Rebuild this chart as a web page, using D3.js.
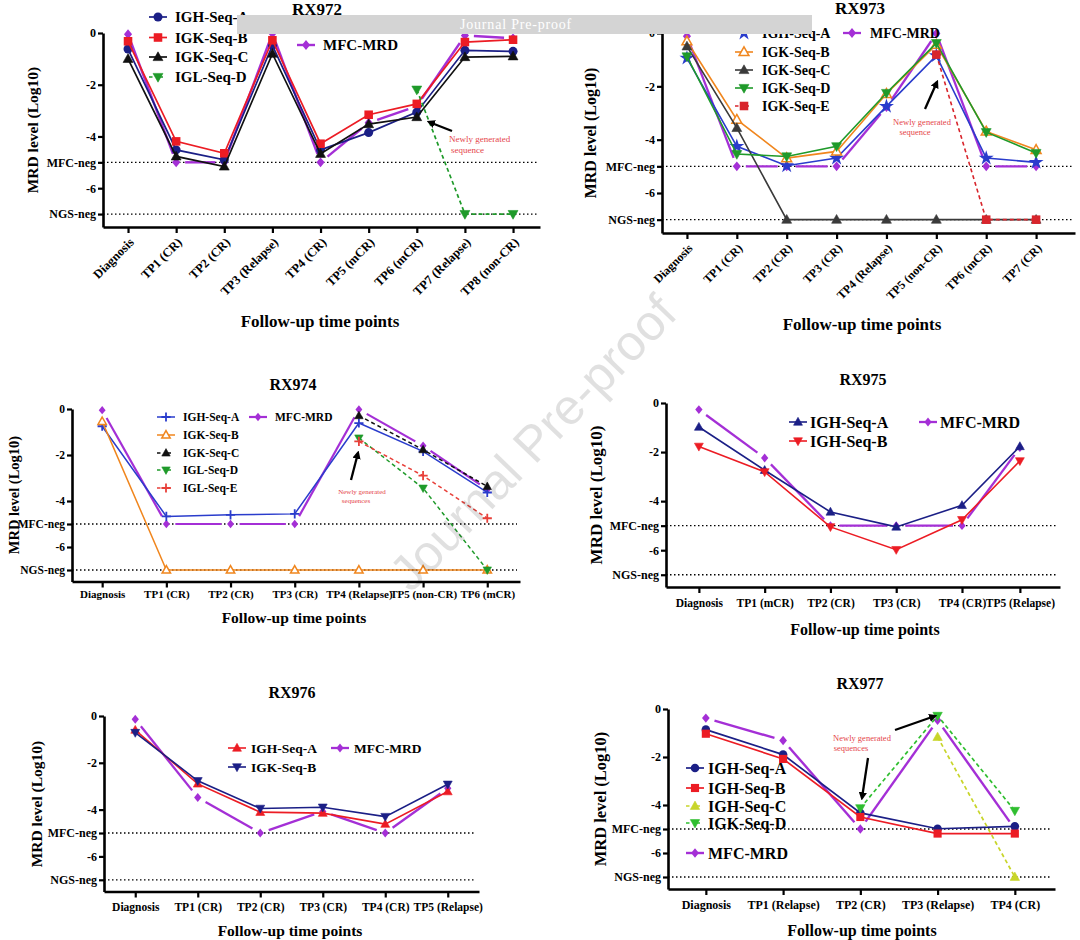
<!DOCTYPE html>
<html><head><meta charset="utf-8">
<script src="https://cdn.jsdelivr.net/npm/d3@7"></script>
<style>
body{margin:0;background:#fff}
svg{display:block}
text{font-family:"Liberation Serif","Times New Roman",serif}
</style>
</head><body>
<svg id="c" width="1080" height="940"></svg>
<script>
// ---------------- DATA ----------------
const yTickValues = [0, -2, -4, -5, -6, -7];
const yTickLabels = ["0", "-2", "-4", "MFC-neg", "-6", "NGS-neg"];

// RX972
const rx972Cats = ["Diagnosis","TP1 (CR)","TP2 (CR)","TP3 (Relapse)","TP4 (CR)","TP5 (mCR)","TP6 (mCR)","TP7 (Relapse)","TP8 (non-CR)"];
const rx972IGH_A = [-0.62,-4.52,-4.9,-0.48,-4.52,-3.85,-3.06,-0.67,-0.71];
const rx972IGK_B = [-0.32,-4.19,-4.65,-0.28,-4.28,-3.16,-2.74,-0.35,-0.26];
const rx972IGK_C = [-1.0,-4.77,-5.16,-0.8,-4.67,-3.52,-3.25,-0.93,-0.9];
const rx972IGL_D = [null,null,null,null,null,null,-2.19,-7,-7];
const rx972MFC   = [-0.05,-5,-5,-0.02,-5,-3.47,-2.83,-0.1,-0.2];

// RX973
const rx973Cats = ["Diagnosis","TP1 (CR)","TP2 (CR)","TP3 (CR)","TP4 (Relapse)","TP5 (non-CR)","TP6 (mCR)","TP7 (CR)"];
const rx973IGH_A = [-0.94,-4.25,-4.98,-4.69,-2.75,-0.85,-4.69,-4.85];
const rx973IGK_B = [-0.31,-3.25,-4.69,-4.44,-2.28,-0.44,-3.69,-4.38];
const rx973IGK_C = [-0.5,-3.56,-7,-7,-7,-7,-7,-7];
const rx973IGK_D = [-0.88,-4.54,-4.63,-4.25,-2.25,-0.38,-3.72,-4.5];
const rx973IGK_E = [null,null,null,null,null,-0.81,-7,-7];
const rx973MFC   = [-0.12,-5,-5,-5,-2.78,-0.02,-5,-5];

// RX974
const rx974Cats = ["Diagnosis","TP1 (CR)","TP2 (CR)","TP3 (CR)","TP4 (Relapse)","TP5 (non-CR)","TP6 (mCR)"];
const rx974IGH_A = [-0.75,-4.67,-4.6,-4.56,-0.61,-1.84,-3.63];
const rx974IGK_B = [-0.54,-7,-7,-7,-7,-7,-7];
const rx974IGK_C = [null,null,null,null,-0.29,-1.77,-3.37];
const rx974IGL_D = [null,null,null,null,-1.26,-3.44,-7];
const rx974IGL_E = [null,null,null,null,-1.41,-2.9,-4.75];
const rx974MFC   = [-0.05,-5,-5,-5,-0.02,-1.6,-3.5];

// RX975
const rx975Cats = ["Diagnosis","TP1 (mCR)","TP2 (CR)","TP3 (CR)","TP4 (CR)","TP5 (Relapse)"];
const rx975XVals = [0,1,2,3,4,4.88];
const rx975IGH_A = [-0.98,-2.74,-4.44,-5.05,-4.17,-1.77];
const rx975IGH_B = [-1.77,-2.81,-5.05,-5.98,-4.76,-2.36];
const rx975MFC   = [-0.27,-2.24,-5,-5,-5,-1.82];

// RX976
const rx976Cats = ["Diagnosis","TP1 (CR)","TP2 (CR)","TP3 (CR)","TP4 (CR)","TP5 (Relapse)"];
const rx976IGH_A = [-0.6,-2.9,-4.11,-4.15,-4.62,-3.23];
const rx976IGK_B = [-0.71,-2.77,-3.95,-3.9,-4.3,-2.92];
const rx976MFC   = [-0.14,-3.48,-5,-4.08,-5,-3.09];

// RX977
const rx977Cats = ["Diagnosis","TP1 (Relapse)","TP2 (CR)","TP3 (Relapse)","TP4 (CR)"];
const rx977IGH_A = [-0.86,-1.9,-4.33,-4.99,-4.89];
const rx977IGH_B = [-1.03,-2.08,-4.5,-5.19,-5.19];
const rx977IGH_C = [null,null,null,-1.17,-7];
const rx977IGK_D = [null,null,-4.13,-0.28,-4.24];
const rx977MFC   = [-0.38,-1.31,-5,-0.47,-5];

// ---------------- STYLE ----------------
const C = {
  navy:"#1b1f86", red:"#ec1c24", black:"#111111", green:"#1f9a2a", purple:"#a42fd6",
  orange:"#f0861e", blue:"#2a3ccc", gray:"#3a3a3a", red2:"#d8252c", yellow:"#c8d52a",
  lgreen:"#2fbe2f", red3:"#e8403a"
};

const panels = [
  { title:"RX972", cats:rx972Cats, xVals:d3.range(rx972Cats.length),
    series:[
      {name:"IGH-Seq-A", values:rx972IGH_A, color:C.navy, marker:"circle"},
      {name:"IGK-Seq-B", values:rx972IGK_B, color:C.red, marker:"square"},
      {name:"IGK-Seq-C", values:rx972IGK_C, color:C.black, marker:"tri"},
      {name:"IGL-Seq-D", values:rx972IGL_D, color:C.green, marker:"triDown", dashed:true},
      {name:"MFC-MRD", values:rx972MFC, color:C.purple, marker:"diamond", mfc:true}],
    L:{axisX0:103, axisX1:540, padL:0.52, padR:0.56, yTop:33, yBot:227, rotate:true, labOx:3, labOy:13, labFs:12.5,
       tickFs:12, title:[317,15,17], xTitle:[320,327,17], yLabel:[38,130,15.5], ms:1, lw:1.7,
       legend:[[158,17],[158,37.5],[158,57],[158,77],[306,45]], legFs:15, legDx:17,
       annot:{lines:[["Newly generated",449,142],["sequence",451,153]], fs:9, anchor:"start", arrows:[[452,131,429,122]]}}},
  { title:"RX973", cats:rx973Cats, xVals:d3.range(rx973Cats.length),
    series:[
      {name:"IGH-Seq-A", values:rx973IGH_A, color:C.blue, marker:"star"},
      {name:"IGK-Seq-B", values:rx973IGK_B, color:C.orange, marker:"triOpen"},
      {name:"IGK-Seq-C", values:rx973IGK_C, color:C.gray, marker:"tri"},
      {name:"IGK-Seq-D", values:rx973IGK_D, color:C.green, marker:"triDown"},
      {name:"IGK-Seq-E", values:rx973IGK_E, color:C.red2, marker:"square", dashed:true},
      {name:"MFC-MRD", values:rx973MFC, color:C.purple, marker:"diamond", mfc:true}],
    L:{axisX0:662, axisX1:1075, padL:0.5, padR:0.78, yTop:33, yBot:233, rotate:true, labOx:3, labOy:13, labFs:12,
       tickFs:12, title:[860,14,17], xTitle:[862,330,17], yLabel:[596,133,16], ms:1, lw:1.6,
       legend:[[744,33],[744,52],[744,70],[744,88],[744,106],[852,33]], legFs:14, legDx:18,
       annot:{lines:[["Newly generated",922,125],["sequence",915,135]], fs:8.5, anchor:"middle", arrows:[[925,109,937,82]]}}},
  { title:"RX974", cats:rx974Cats, xVals:d3.range(rx974Cats.length),
    series:[
      {name:"IGH-Seq-A", values:rx974IGH_A, color:C.blue, marker:"plus"},
      {name:"IGK-Seq-B", values:rx974IGK_B, color:C.orange, marker:"triOpen"},
      {name:"IGK-Seq-C", values:rx974IGK_C, color:C.black, marker:"tri", dashed:true},
      {name:"IGL-Seq-D", values:rx974IGL_D, color:C.green, marker:"triDown", dashed:true},
      {name:"IGL-Seq-E", values:rx974IGL_E, color:C.red3, marker:"plus", dashed:true},
      {name:"MFC-MRD", values:rx974MFC, color:C.purple, marker:"diamond", mfc:true}],
    L:{axisX0:72, axisX1:520, padL:0.47, padR:0.51, yTop:409, yBot:581.5, rotate:false, labY:16, labFs:11,
       tickFs:11.5, title:[293,390,16], xTitle:[294,623,15.5], yLabel:[19,495,14.5], ms:0.85, lw:1.5,
       legend:[[166,417],[166,435],[166,453],[166,470],[166,488],[258,417]], legFs:11.5, legDx:17,
       annot:{lines:[["Newly generated",362,494],["sequences",356,503]], fs:7, anchor:"middle", arrows:[[351,480,358,453]]}}},
  { title:"RX975", cats:rx975Cats, xVals:rx975XVals,
    series:[
      {name:"IGH-Seq-A", values:rx975IGH_A, color:C.navy, marker:"tri"},
      {name:"IGH-Seq-B", values:rx975IGH_B, color:C.red, marker:"triDown"},
      {name:"MFC-MRD", values:rx975MFC, color:C.purple, marker:"diamond", mfc:true}],
    L:{axisX0:666, axisX1:1060, padL:0.5, padR:0.61, yTop:403, yBot:587, rotate:false, labY:20, labFs:11.5,
       tickFs:12, title:[863,385,16], xTitle:[865,635,16], yLabel:[602,495,17], ms:0.9, lw:1.6,
       legend:[[798,422],[798,441],[928,422]], legFs:16, legDx:12}},
  { title:"RX976", cats:rx976Cats, xVals:d3.range(rx976Cats.length),
    series:[
      {name:"IGH-Seq-A", values:rx976IGH_A, color:C.red, marker:"tri"},
      {name:"IGK-Seq-B", values:rx976IGK_B, color:C.navy, marker:"triDown"},
      {name:"MFC-MRD", values:rx976MFC, color:C.purple, marker:"diamond", mfc:true}],
    L:{axisX0:104, axisX1:479, padL:0.5, padR:0.5, yTop:716, yBot:891.5, rotate:false, labY:19.5, labFs:11.5,
       tickFs:12, title:[292,698,16], xTitle:[290,936,15.5], yLabel:[42,804,15.5], ms:0.9, lw:1.6,
       legend:[[237,748],[237,767],[340,748]], legFs:13.5, legDx:14}},
  { title:"RX977", cats:rx977Cats, xVals:d3.range(rx977Cats.length),
    series:[
      {name:"IGH-Seq-A", values:rx977IGH_A, color:C.navy, marker:"circle"},
      {name:"IGH-Seq-B", values:rx977IGH_B, color:C.red, marker:"square"},
      {name:"IGH-Seq-C", values:rx977IGH_C, color:C.yellow, marker:"tri", dashed:true},
      {name:"IGK-Seq-D", values:rx977IGK_D, color:C.lgreen, marker:"triDown", dashed:true},
      {name:"MFC-MRD", values:rx977MFC, color:C.purple, marker:"diamond", mfc:true}],
    L:{axisX0:668, axisX1:1055, padL:0.49, padR:0.52, yTop:709, yBot:889, rotate:false, labY:20, labFs:12,
       tickFs:12, title:[860,689,16], xTitle:[862,936,16], yLabel:[606,799,16.5], ms:0.95, lw:1.7,
       legend:[[695,768],[695,788],[695,806],[695,823],[695,853]], legFs:16, legDx:13,
       annot:{lines:[["Newly generated",862,741],["sequences",851,751]], fs:8.5, anchor:"middle",
              arrows:[[868,758,862,798],[895,730,935,716]]}}}
];

// ---------------- DRAW ----------------
const svg = d3.select("#c");
const defs = svg.append("defs");
defs.append("marker").attr("id","ah").attr("viewBox","0 0 10 10").attr("refX",7).attr("refY",5)
  .attr("markerWidth",3.6).attr("markerHeight",3.6).attr("orient","auto")
  .append("path").attr("d","M0,0 L10,5 L0,10 Z").attr("fill","#000");

function drawMarker(g, type, cx, cy, color, s) {
  const r = 4.5 * s;
  if (type === "circle") {
    g.append("circle").attr("cx",cx).attr("cy",cy).attr("r",r).attr("fill",color);
  } else if (type === "square") {
    g.append("rect").attr("x",cx-r*0.95).attr("y",cy-r*0.95).attr("width",r*1.9).attr("height",r*1.9).attr("fill",color);
  } else if (type === "tri" || type === "triOpen") {
    g.append("path").attr("d",`M${cx},${cy-r*1.15}L${cx+r*1.1},${cy+r*0.8}L${cx-r*1.1},${cy+r*0.8}Z`)
      .attr("fill", type === "tri" ? color : "#fff").attr("stroke",color).attr("stroke-width", type === "tri" ? 0.6 : 1.5);
  } else if (type === "triDown") {
    g.append("path").attr("d",`M${cx},${cy+r*1.15}L${cx+r*1.1},${cy-r*0.8}L${cx-r*1.1},${cy-r*0.8}Z`)
      .attr("fill",color).attr("stroke",color).attr("stroke-width",0.6);
  } else if (type === "diamond") {
    g.append("path").attr("d",`M${cx},${cy-r*1.1}L${cx+r*0.9},${cy}L${cx},${cy+r*1.1}L${cx-r*0.9},${cy}Z`).attr("fill",color);
  } else if (type === "plus") {
    g.append("path").attr("d",`M${cx-r*1.2},${cy}H${cx+r*1.2}M${cx},${cy-r*1.2}V${cy+r*1.2}`)
      .attr("stroke",color).attr("stroke-width",1.8).attr("fill","none");
  } else if (type === "star") {
    g.append("path").attr("transform",`translate(${cx},${cy})`)
      .attr("d", d3.symbol().type(d3.symbolStar).size(70*s*s)()).attr("fill",color);
  }
}

function drawPanel(p) {
  const L = p.L;
  const g = svg.append("g");
  const n = p.xVals.length;
  const x = d3.scaleLinear().domain([-L.padL, p.xVals[n-1] + L.padR]).range([L.axisX0, L.axisX1]);
  const y = d3.scaleLinear().domain([-7.5, 0]).range([L.yBot, L.yTop]);

  // reference dotted lines
  [-5, -7].forEach(v => {
    g.append("line").attr("x1",L.axisX0).attr("x2",L.axisX1-3).attr("y1",y(v)).attr("y2",y(v))
      .attr("stroke","#000").attr("stroke-width",1.3).attr("stroke-dasharray","1.5,2.5");
  });

  // series: MFC first (underneath)
  const order = p.series.filter(s => s.mfc).concat(p.series.filter(s => !s.mfc));
  order.forEach(s => {
    const pts = s.values.map((v,i) => v == null ? null : [x(p.xVals[i]), y(v)]);
    if (s.mfc) {
      const gap = 9;
      for (let i = 0; i < pts.length-1; i++) {
        const a = pts[i], b = pts[i+1];
        if (!a || !b) continue;
        const dx = b[0]-a[0], dy = b[1]-a[1], len = Math.hypot(dx,dy);
        if (len <= 2*gap) continue;
        const ux = dx/len, uy = dy/len;
        g.append("line").attr("x1",a[0]+ux*gap).attr("y1",a[1]+uy*gap)
          .attr("x2",b[0]-ux*gap).attr("y2",b[1]-uy*gap)
          .attr("stroke",s.color).attr("stroke-width",L.lw+0.7);
      }
    } else {
      const line = d3.line().defined(d => d != null).x(d => d[0]).y(d => d[1]);
      g.append("path").attr("d", line(pts)).attr("fill","none").attr("stroke",s.color)
        .attr("stroke-width",L.lw).attr("stroke-dasharray", s.dashed ? "4,3" : null);
    }
    pts.forEach(pt => { if (pt) drawMarker(g, s.marker, pt[0], pt[1], s.color, L.ms); });
  });

  // axes
  const ya = g.append("g").attr("transform",`translate(${L.axisX0},0)`)
    .call(d3.axisLeft(y).tickValues(yTickValues).tickFormat((d,i) => yTickLabels[i]).tickSize(5).tickSizeOuter(0).tickPadding(2));
  const xa = g.append("g").attr("transform",`translate(0,${L.yBot})`)
    .call(d3.axisBottom(x).tickValues(p.xVals).tickFormat((d,i) => p.cats[i]).tickSize(6).tickSizeOuter(0));
  [ya, xa].forEach(a => {
    a.attr("font-family",null).attr("font-size",null);
    a.select(".domain").attr("stroke","#000").attr("stroke-width",2.6);
    a.selectAll(".tick line").attr("stroke","#000").attr("stroke-width",2.2);
    a.selectAll("text").attr("fill","#000").style("font-weight","bold");
  });
  ya.selectAll("text").style("font-size", L.tickFs + "px");
  if (L.rotate) {
    xa.selectAll("text").attr("x",0).attr("y",0).attr("dy","0.35em")
      .attr("text-anchor","end").attr("transform",`translate(${L.labOx},${L.labOy}) rotate(-45)`)
      .style("font-size", L.labFs + "px");
  } else {
    xa.selectAll("text").attr("y",L.labY).attr("dy",0).style("font-size", L.labFs + "px");
  }

  // titles
  g.append("text").attr("x",L.title[0]).attr("y",L.title[1]).attr("text-anchor","middle")
    .style("font-weight","bold").style("font-size",L.title[2]+"px").text(p.title);
  g.append("text").attr("x",L.xTitle[0]).attr("y",L.xTitle[1]).attr("text-anchor","middle")
    .style("font-weight","bold").style("font-size",L.xTitle[2]+"px").text("Follow-up time points");
  g.append("text").attr("transform",`translate(${L.yLabel[0]},${L.yLabel[1]}) rotate(-90)`).attr("text-anchor","middle")
    .style("font-weight","bold").style("font-size",L.yLabel[2]+"px").text("MRD level (Log10)");

  // legend
  p.series.forEach((s,i) => {
    const [cx, cy] = L.legend[i];
    const lg = g.append("g");
    lg.append("line").attr("x1",cx-9).attr("x2",cx+9).attr("y1",cy).attr("y2",cy)
      .attr("stroke",s.color).attr("stroke-width", s.mfc ? L.lw+0.7 : L.lw)
      .attr("stroke-dasharray", s.dashed ? "3.5,7" : null);
    drawMarker(lg, s.marker, cx, cy, s.color, L.ms);
    lg.append("text").attr("x",cx+L.legDx).attr("y",cy).attr("dy","0.35em")
      .style("font-weight","bold").style("font-size",L.legFs+"px").text(s.name);
  });

  // annotations
  if (L.annot) {
    L.annot.lines.forEach(([t,tx,ty]) => {
      g.append("text").attr("x",tx).attr("y",ty).attr("text-anchor",L.annot.anchor)
        .attr("fill","#e5454a").style("font-size",L.annot.fs+"px").text(t);
    });
    L.annot.arrows.forEach(([x1,y1,x2,y2]) => {
      g.append("line").attr("x1",x1).attr("y1",y1).attr("x2",x2).attr("y2",y2)
        .attr("stroke","#000").attr("stroke-width",2.3).attr("marker-end","url(#ah)");
    });
  }
}

panels.forEach(drawPanel);

// banner
svg.append("rect").attr("x",237).attr("y",15).attr("width",575).attr("height",19).attr("fill","#d4d4d4");
svg.append("text").attr("x",516).attr("y",29).attr("text-anchor","middle").attr("fill","#ffffff")
  .style("font-size","14px").style("letter-spacing","0.8px").text("Journal Pre-proof");

// watermark
svg.append("text").attr("transform","translate(533,443) rotate(-46)").attr("text-anchor","middle")
  .attr("dominant-baseline","central").attr("fill","#000").attr("fill-opacity",0.12)
  .style("font-family","'Liberation Sans',Arial,sans-serif").style("font-size","50px").text("Journal Pre-proof");
</script>
</body></html>
